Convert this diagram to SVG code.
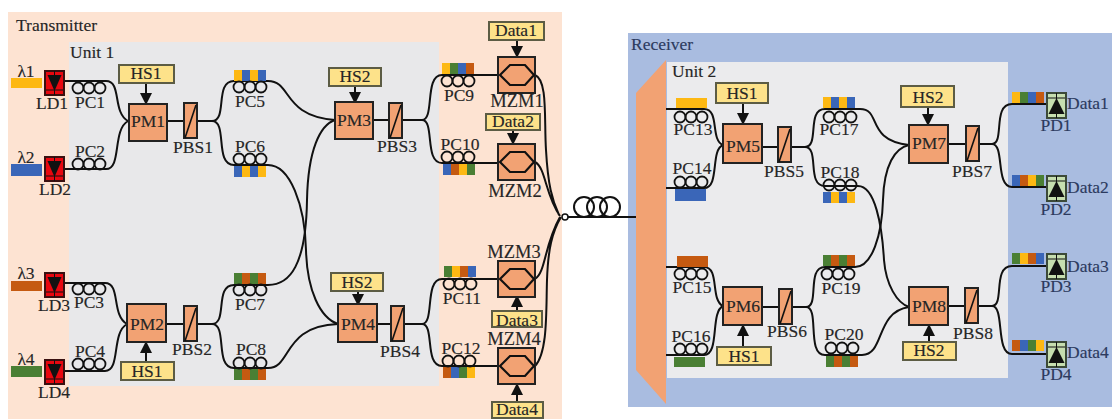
<svg xmlns="http://www.w3.org/2000/svg" xmlns:xlink="http://www.w3.org/1999/xlink" width="1112" height="419" viewBox="0 0 1112 419">
<style>
text{font-family:"Liberation Serif","Times New Roman",serif;font-size:17.5px;fill:#262626;text-anchor:middle;stroke:#262626;stroke-width:.15}
.s{text-anchor:start}
.z{font-size:18.5px}
.r{fill:#2c3a5e;stroke:#2c3a5e}
.pm{fill:#f2a273;stroke:#222;stroke-width:2}
.lb{fill:#fde28a;stroke:#5c5c44;stroke-width:2}
.f{fill:none;stroke:#111;stroke-width:2}
.ar{fill:none;stroke:#111;stroke-width:2;marker-end:url(#ah)}
.y{fill:#fdb813}.b{fill:#3a66b8}.o{fill:#c55a11}.g{fill:#4a7f34}
</style>
<defs>
<marker id="ah" markerWidth="6" markerHeight="6" refX="5" refY="3" orient="auto"><path d="M0 0L6 3L0 6Z" fill="#111"/></marker>
<g id="coil" fill="none" stroke="#111" stroke-width="1.8"><circle cx="-11" r="5.5"/><circle r="5.5"/><circle cx="11" r="5.5"/></g>
<g id="ld"><rect x="1" y="1" width="19" height="24" fill="#e8070f" stroke="#3a1010" stroke-width="2"/><path d="M3.500 5H17.500L10.500 21Z" fill="#111"/><path d="M2 20H19" stroke="#111" stroke-width="1"/><path d="M10.500 1V25" stroke="#111" stroke-width="1"/></g>
<g id="pd"><rect x="1" y="1" width="19" height="25" fill="#c6deaf" stroke="#3c4a38" stroke-width="2"/><path d="M10.500 6L18.500 22H2.500Z" fill="#111"/><path d="M2 6H19" stroke="#111" stroke-width="1"/><path d="M10.500 1V26" stroke="#111" stroke-width="1"/></g>
<g id="mzm"><rect x="0" y="0" width="37" height="36" class="pm"/><path d="M2 18L12 8H27L36 18L27 28H12Z" fill="none" stroke="#111" stroke-width="2.200"/></g>
<g id="pbs"><rect x="0" y="0" width="13" height="35" class="pm"/><path d="M1 35L12 2" stroke="#111" stroke-width="1.600"/></g>
<g id="ybyb"><rect width="8" height="11" class="y"/><rect x="8" width="8" height="11" class="b"/><rect x="16" width="8" height="11" class="y"/><rect x="24" width="8" height="11" class="b"/></g>
<g id="byby"><rect width="8" height="11" class="b"/><rect x="8" width="8" height="11" class="y"/><rect x="16" width="8" height="11" class="b"/><rect x="24" width="8" height="11" class="y"/></g>
<g id="gogo"><rect width="8" height="11" class="g"/><rect x="8" width="8" height="11" class="o"/><rect x="16" width="8" height="11" class="g"/><rect x="24" width="8" height="11" class="o"/></g>
<g id="ygbo"><rect width="8" height="11" class="y"/><rect x="8" width="8" height="11" class="g"/><rect x="16" width="8" height="11" class="b"/><rect x="24" width="8" height="11" class="o"/></g>
<g id="boyg"><rect width="8" height="11" class="b"/><rect x="8" width="8" height="11" class="o"/><rect x="16" width="8" height="11" class="y"/><rect x="24" width="8" height="11" class="g"/></g>
<g id="gyob"><rect width="8" height="11" class="g"/><rect x="8" width="8" height="11" class="y"/><rect x="16" width="8" height="11" class="o"/><rect x="24" width="8" height="11" class="b"/></g>
<g id="obgy"><rect width="8" height="11" class="o"/><rect x="8" width="8" height="11" class="b"/><rect x="16" width="8" height="11" class="g"/><rect x="24" width="8" height="11" class="y"/></g>
</defs>

<rect width="1112" height="419" fill="#fff"/>
<g id="transmitter"><rect x="8" y="12" width="554" height="407" fill="#fde3d2"/><rect x="69" y="42" width="370" height="344" fill="#e8e8ea"/><text class="s" x="16" y="31">Transmitter</text><text class="s" x="70" y="58">Unit 1</text></g>
<g id="receiver"><rect x="628" y="33" width="484" height="374" fill="#a9bce0"/><rect x="667" y="62" width="341" height="316" fill="#ebebed"/><text class="s r" x="631" y="50">Receiver</text><text class="s" x="672" y="77">Unit 2</text><path id="demux" d="M636 93L666 60V404L636 370Z" fill="#f2a273"/></g>

<g id="connectors">
<path class="f" d="M64 81H106C122 81 112 112 128 121C112 130 122 169 106 169H64"/>
<path class="f" d="M127 324C111 315 121 283 105 283H64M127 324C111 333 121 371 105 371H64"/>
<path class="f" d="M167 121H184M196 121H212C228 121 214 81 234 81H268C292 81 282 116 335 120"/>
<path class="f" d="M212 121C228 121 214 165 234 165H268C290 165 305 205 306 250C307 290 320 318 338 324"/>
<path class="f" d="M166 324H184M196 324H212C228 324 214 285 234 285H268C290 285 306 265 307 200C308 150 320 125 335 120"/>
<path class="f" d="M212 324C228 324 214 368 234 368H268C292 368 282 326 338 324"/>
<path class="f" d="M373 120H389M402 120H422C435 120 424 75 442 75H498M422 120C435 120 424 163 442 163H498"/>
<path class="f" d="M377 324H391M405 324H422C435 324 424 279 442 279H498M422 324C435 324 424 366 442 366H498"/>
<path class="f" d="M535 75C548 80 544 120 546 150C548 185 552 200 559 215M535 162C546 168 545 195 560 216M535 279C546 272 544 245 560 217M535 366C548 352 546 310 547 280C548 250 552 232 561 217"/>
<path class="f" d="M568 217H636"/>
<circle cx="565" cy="217" r="3" fill="#fff" stroke="#111" stroke-width="1.500"/>
<g fill="none" stroke="#111" stroke-width="2"><circle cx="584" cy="207" r="10"/><circle cx="597" cy="207" r="10"/><circle cx="610" cy="207" r="10"/></g>
<path class="f" d="M666 109H704C720 109 710 140 723 145C710 150 720 188 704 188H666"/>
<path class="f" d="M666 267H704C720 267 710 300 723 306C710 312 720 355 704 355H666"/>
<path class="f" d="M762 147H778M791 147H805C820 147 806 109 825 109H860C882 109 865 140 909 145"/>
<path class="f" d="M805 147C820 147 806 186 825 186H858C875 186 882 225 884 260C886 285 897 303 909 307"/>
<path class="f" d="M762 307H779M792 307H806C820 307 806 267 825 267H855C872 267 882 235 883 200C884 165 895 148 909 145"/>
<path class="f" d="M806 307C820 307 806 355 825 355H862C885 355 875 312 909 307"/>
<path class="f" d="M948 144H966M980 144H992C1005 144 992 104 1012 104H1046M992 144C1005 144 995 187 1012 187H1046"/>
<path class="f" d="M948 306H965M978 306H992C1005 306 992 266 1012 266H1046M992 306C1005 306 995 354 1012 354H1046"/>
<path class="ar" d="M146 84V103"/><path class="ar" d="M146 362V343"/><path class="ar" d="M355 86V102"/><path class="ar" d="M358 291V304"/>
<path class="ar" d="M517 40V56"/><path class="ar" d="M513 130V143"/><path class="ar" d="M517 311V297"/><path class="ar" d="M517 402V385"/>
<path class="ar" d="M743 103V123"/><path class="ar" d="M743 347V326"/><path class="ar" d="M928 107V124"/><path class="ar" d="M929 342V326"/>
</g>

<g id="LD1"><rect x="11" y="78" width="31" height="10" class="y"/><text x="26" y="77">λ1</text><use href="#ld" x="44" y="70"/><text x="52" y="109">LD1</text></g>
<g id="LD2"><rect x="11" y="164" width="31" height="12" class="b"/><text x="26" y="163">λ2</text><use href="#ld" x="44" y="156"/><text x="55" y="195">LD2</text></g>
<g id="LD3"><rect x="11" y="281" width="31" height="10" class="o"/><text x="26" y="279">λ3</text><use href="#ld" x="44" y="272"/><text x="54" y="311">LD3</text></g>
<g id="LD4"><rect x="11" y="366" width="31" height="11" class="g"/><text x="26" y="365">λ4</text><use href="#ld" x="44" y="359"/><text x="54" y="398">LD4</text></g>

<g id="PC1"><use href="#coil" x="89" y="88"/><text x="90" y="108">PC1</text></g>
<g id="PC2"><use href="#coil" x="89" y="164"/><text x="90" y="157">PC2</text></g>
<g id="PC3"><use href="#coil" x="89" y="289"/><text x="89" y="308">PC3</text></g>
<g id="PC4"><use href="#coil" x="89" y="364"/><text x="90" y="357">PC4</text></g>
<g id="PC5"><use href="#ybyb" x="234" y="70"/><use href="#coil" x="250" y="87"/><text x="250" y="107">PC5</text></g>
<g id="PC6"><use href="#byby" x="234" y="166"/><use href="#coil" x="250" y="159"/><text x="250" y="152">PC6</text></g>
<g id="PC7"><use href="#gogo" x="234" y="273"/><use href="#coil" x="250" y="290"/><text x="250" y="310">PC7</text></g>
<g id="PC8"><use href="#gogo" x="234" y="369"/><use href="#coil" x="250" y="363"/><text x="251" y="355">PC8</text></g>
<g id="PC9"><use href="#ygbo" x="442" y="63"/><use href="#coil" x="458" y="81"/><text x="459" y="101">PC9</text></g>
<g id="PC10"><use href="#boyg" x="443" y="164"/><use href="#coil" x="458" y="157"/><text x="460" y="150">PC10</text></g>
<g id="PC11"><use href="#gyob" x="444" y="266"/><use href="#coil" x="460" y="284"/><text x="462" y="304">PC11</text></g>
<g id="PC12"><use href="#obgy" x="443" y="367"/><use href="#coil" x="459" y="361"/><text x="461" y="354">PC12</text></g>

<g id="PM1"><rect x="129" y="104" width="38" height="37" class="pm"/><text x="148" y="127">PM1</text></g>
<g id="PM2"><rect x="127" y="304" width="39" height="38" class="pm"/><text x="147" y="330">PM2</text></g>
<g id="PM3"><rect x="335" y="102" width="38" height="37" class="pm"/><text x="354" y="126">PM3</text></g>
<g id="PM4"><rect x="338" y="304" width="39" height="38" class="pm"/><text x="358" y="330">PM4</text></g>
<g id="HS1a"><rect x="119" y="65" width="55" height="18" class="lb"/><text x="146" y="79">HS1</text></g>
<g id="HS1b"><rect x="121" y="362" width="53" height="18" class="lb"/><text x="147" y="377">HS1</text></g>
<g id="HS2a"><rect x="329" y="68" width="52" height="18" class="lb"/><text x="355" y="82">HS2</text></g>
<g id="HS2b"><rect x="331" y="273" width="52" height="18" class="lb"/><text x="357" y="288">HS2</text></g>
<g id="PBS1"><use href="#pbs" x="184" y="103"/><text x="193" y="153">PBS1</text></g>
<g id="PBS2"><use href="#pbs" x="184" y="306"/><text x="192" y="355">PBS2</text></g>
<g id="PBS3"><use href="#pbs" x="389" y="103"/><text x="397" y="152">PBS3</text></g>
<g id="PBS4"><use href="#pbs" x="391" y="306"/><text x="400" y="357">PBS4</text></g>

<g id="MZM1"><use href="#mzm" x="498" y="57"/><text class="z" x="517" y="107">MZM1</text></g>
<g id="MZM2"><use href="#mzm" x="498" y="144"/><text class="z" x="515" y="197">MZM2</text></g>
<g id="MZM3"><use href="#mzm" x="498" y="261"/><text class="z" x="514" y="258">MZM3</text></g>
<g id="MZM4"><use href="#mzm" x="498" y="348"/><text class="z" x="514" y="345">MZM4</text></g>
<g id="Data1a"><rect x="489" y="22" width="55" height="18" class="lb"/><text x="516" y="36">Data1</text></g>
<g id="Data2a"><rect x="486" y="114" width="54" height="16" class="lb"/><text x="513" y="127">Data2</text></g>
<g id="Data3a"><rect x="492" y="311" width="50" height="16" class="lb"/><text x="517" y="326">Data3</text></g>
<g id="Data4a"><rect x="492" y="402" width="51" height="16" class="lb"/><text x="517" y="415">Data4</text></g>

<g id="PC13"><rect x="676" y="98" width="31" height="10" class="y"/><use href="#coil" x="691" y="117"/><text x="693" y="135">PC13</text></g>
<g id="PC14"><rect x="675" y="189" width="31" height="12" class="b"/><use href="#coil" x="691" y="182"/><text x="692" y="174">PC14</text></g>
<g id="PC15"><rect x="677" y="256" width="31" height="11" class="o"/><use href="#coil" x="691" y="274"/><text x="692" y="293">PC15</text></g>
<g id="PC16"><rect x="674" y="357" width="31" height="10" class="g"/><use href="#coil" x="691" y="349"/><text x="691" y="342">PC16</text></g>
<g id="PC17"><use href="#ybyb" x="823" y="97"/><use href="#coil" x="840" y="117"/><text x="839" y="135">PC17</text></g>
<g id="PC18"><use href="#byby" x="823" y="192"/><use href="#coil" x="840" y="185"/><text x="840" y="178">PC18</text></g>
<g id="PC19"><use href="#gogo" x="823" y="255"/><use href="#coil" x="838" y="274"/><text x="841" y="294">PC19</text></g>
<g id="PC20"><use href="#gogo" x="826" y="356"/><use href="#coil" x="842" y="348"/><text x="844" y="340">PC20</text></g>

<g id="PM5"><rect x="723" y="124" width="39" height="39" class="pm"/><text x="743" y="152">PM5</text></g>
<g id="PM6"><rect x="723" y="287" width="39" height="38" class="pm"/><text x="743" y="312">PM6</text></g>
<g id="PM7"><rect x="909" y="125" width="39" height="38" class="pm"/><text x="929" y="149">PM7</text></g>
<g id="PM8"><rect x="909" y="287" width="39" height="38" class="pm"/><text x="929" y="312">PM8</text></g>
<g id="HS1c"><rect x="716" y="83" width="52" height="20" class="lb"/><text x="742" y="99">HS1</text></g>
<g id="HS1d"><rect x="717" y="347" width="54" height="18" class="lb"/><text x="744" y="362">HS1</text></g>
<g id="HS2c"><rect x="901" y="86" width="53" height="21" class="lb"/><text x="928" y="103">HS2</text></g>
<g id="HS2d"><rect x="903" y="342" width="53" height="18" class="lb"/><text x="929" y="356">HS2</text></g>
<g id="PBS5"><use href="#pbs" x="778" y="127"/><text x="784" y="177">PBS5</text></g>
<g id="PBS6"><use href="#pbs" x="779" y="289"/><text x="787" y="337">PBS6</text></g>
<g id="PBS7"><use href="#pbs" x="966" y="126"/><text x="972" y="177">PBS7</text></g>
<g id="PBS8"><use href="#pbs" x="965" y="288"/><text x="973" y="339">PBS8</text></g>

<g id="PD1"><use href="#ygbo" x="1012" y="92"/><use href="#pd" x="1046" y="92"/><text class="s r" x="1067" y="109">Data1</text><text class="r" x="1056" y="131">PD1</text></g>
<g id="PD2"><use href="#boyg" x="1012" y="175"/><use href="#pd" x="1046" y="175"/><text class="s r" x="1067" y="193">Data2</text><text class="r" x="1056" y="215">PD2</text></g>
<g id="PD3"><use href="#gyob" x="1012" y="253"/><use href="#pd" x="1046" y="253"/><text class="s r" x="1067" y="272">Data3</text><text class="r" x="1056" y="292">PD3</text></g>
<g id="PD4"><use href="#obgy" x="1012" y="340"/><use href="#pd" x="1046" y="341"/><text class="s r" x="1067" y="358">Data4</text><text class="r" x="1056" y="380">PD4</text></g>
</svg>
